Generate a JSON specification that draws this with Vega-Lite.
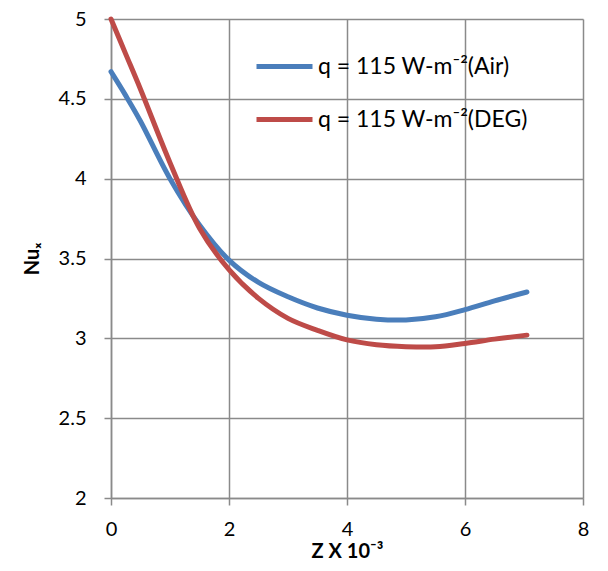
{
  "$schema": "https://vega.github.io/schema/vega-lite/v6.json",
  "autosize": "none",
  "width": 472,
  "height": 479,
  "padding": {"left": 111, "top": 19, "right": 25, "bottom": 73},
  "background": "white",
  "config": {
    "font": "Lato",
    "view": {"stroke": null},
    "axis": {
      "gridColor": "#8a8a8a",
      "gridWidth": 1.5,
      "domainColor": "#8a8a8a",
      "domainWidth": 1.5,
      "tickColor": "#8a8a8a",
      "tickWidth": 1.5,
      "tickSize": 7,
      "labelFont": "Lato",
      "labelFontSize": 20,
      "labelColor": "#000000",
      "labelFlush": false,
      "titleFont": "Lato",
      "titleFontSize": 20,
      "titleFontWeight": "bold",
      "titleColor": "#000000"
    }
  },
  "data": {
    "values": [
      {"z": 0.0, "nu": 4.67, "series": "Air"},
      {"z": 0.25, "nu": 4.52, "series": "Air"},
      {"z": 0.5, "nu": 4.36, "series": "Air"},
      {"z": 1.0, "nu": 4.0, "series": "Air"},
      {"z": 1.5, "nu": 3.71, "series": "Air"},
      {"z": 2.0, "nu": 3.49, "series": "Air"},
      {"z": 2.5, "nu": 3.35, "series": "Air"},
      {"z": 3.0, "nu": 3.26, "series": "Air"},
      {"z": 3.5, "nu": 3.19, "series": "Air"},
      {"z": 4.0, "nu": 3.145, "series": "Air"},
      {"z": 4.5, "nu": 3.12, "series": "Air"},
      {"z": 5.0, "nu": 3.115, "series": "Air"},
      {"z": 5.5, "nu": 3.135, "series": "Air"},
      {"z": 6.0, "nu": 3.18, "series": "Air"},
      {"z": 6.5, "nu": 3.235, "series": "Air"},
      {"z": 7.05, "nu": 3.29, "series": "Air"},
      {"z": 0.0, "nu": 5.0, "series": "DEG"},
      {"z": 0.25, "nu": 4.78, "series": "DEG"},
      {"z": 0.5, "nu": 4.56, "series": "DEG"},
      {"z": 1.0, "nu": 4.1, "series": "DEG"},
      {"z": 1.5, "nu": 3.69, "series": "DEG"},
      {"z": 2.0, "nu": 3.43, "series": "DEG"},
      {"z": 2.5, "nu": 3.25, "series": "DEG"},
      {"z": 3.0, "nu": 3.125, "series": "DEG"},
      {"z": 3.5, "nu": 3.05, "series": "DEG"},
      {"z": 4.0, "nu": 2.99, "series": "DEG"},
      {"z": 4.5, "nu": 2.96, "series": "DEG"},
      {"z": 5.0, "nu": 2.948, "series": "DEG"},
      {"z": 5.5, "nu": 2.947, "series": "DEG"},
      {"z": 6.0, "nu": 2.968, "series": "DEG"},
      {"z": 6.5, "nu": 2.995, "series": "DEG"},
      {"z": 7.05, "nu": 3.02, "series": "DEG"}
    ]
  },
  "mark": {"type": "line", "strokeWidth": 5, "strokeCap": "round", "interpolate": "catmull-rom"},
  "encoding": {
    "x": {
      "field": "z",
      "type": "quantitative",
      "scale": {"domain": [0, 8], "nice": false, "zero": false},
      "axis": {"values": [0, 2, 4, 6, 8], "format": "~g", "title": "Z X 10⁻³", "labelPadding": 14, "titlePadding": 2, "grid": true}
    },
    "y": {
      "field": "nu",
      "type": "quantitative",
      "scale": {"domain": [2, 5], "nice": false, "zero": false},
      "axis": {"values": [2, 2.5, 3, 3.5, 4, 4.5, 5], "format": "~g", "title": "Nuₓ", "labelPadding": 18, "titlePadding": 16, "grid": true}
    },
    "color": {
      "field": "series",
      "type": "nominal",
      "scale": {"domain": ["Air", "DEG"], "range": ["#4a7ebb", "#be4b48"]},
      "legend": {
        "orient": "none",
        "legendX": 143,
        "legendY": 17,
        "title": null,
        "padding": 0,
        "symbolType": "stroke",
        "symbolSize": 3136,
        "symbolStrokeWidth": 5,
        "labelFont": "Lato",
        "labelFontSize": 23,
        "labelColor": "#000000",
        "labelOffset": 3,
        "labelLimit": 400,
        "rowPadding": 10,
        "labelExpr": "'q = 115 W-m⁻²(' + datum.label + ')'"
      }
    }
  }
}
